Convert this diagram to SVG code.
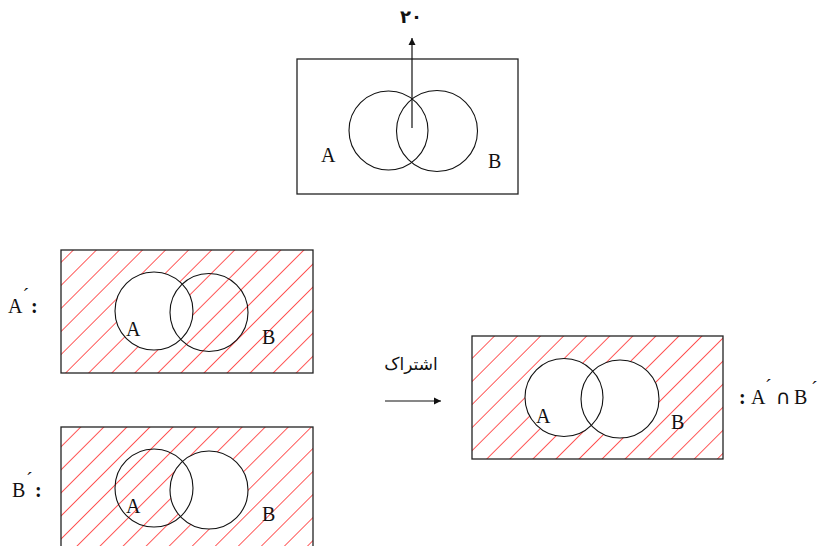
<svg xmlns="http://www.w3.org/2000/svg" width="821" height="546" viewBox="0 0 821 546">
<style>
.box{fill:none;stroke:#222;stroke-width:1.3}
.c{fill:none;stroke:#111;stroke-width:1.1}
.t{font-family:"Liberation Serif","Times New Roman",serif;font-size:20px;fill:#111}
.fa{font-family:"DejaVu Sans","Noto Sans",sans-serif;fill:#111}
.ln{stroke:#111;stroke-width:1.2;fill:none}
.cap{font-family:"DejaVu Sans",sans-serif;font-size:20px}
</style>
<defs>
<pattern id="hatch" patternUnits="userSpaceOnUse" width="16.3" height="16.3" patternTransform="rotate(45)">
<line x1="0" y1="0" x2="0" y2="16.3" stroke="#ff0000" stroke-width="1.3"/>
</pattern>
<marker id="ah" markerWidth="8" markerHeight="8" refX="7" refY="4" orient="auto" markerUnits="userSpaceOnUse">
<path d="M0,0.5 L7,4 L0,7.5 Z" fill="#111"/>
</marker>
<mask id="mA">
<rect x="0" y="0" width="821" height="546" fill="#fff"/>
<circle cx="154" cy="311" r="39" fill="#000"/>
</mask>
<mask id="mB">
<rect x="0" y="0" width="821" height="546" fill="#fff"/>
<circle cx="209" cy="490" r="39" fill="#000"/>
</mask>
<mask id="mAB">
<rect x="0" y="0" width="821" height="546" fill="#fff"/>
<circle cx="564" cy="397.5" r="39" fill="#000"/>
<circle cx="620" cy="399" r="39" fill="#000"/>
</mask>
</defs>

<g id="top-venn">
<rect class="box" x="297" y="59" width="221" height="135"/>
<circle class="c" cx="388.5" cy="130.5" r="39.5"/>
<circle class="c" cx="437" cy="131" r="40.5"/>
<text class="t" x="321" y="162">A</text>
<text class="t" x="488" y="168">B</text>
<text class="fa" x="411" y="23" font-size="18" font-weight="bold" text-anchor="middle">۲۰</text>
</g>

<g id="a-complement">
<rect x="61" y="250" width="252" height="123" fill="url(#hatch)" mask="url(#mA)"/>
<rect class="box" x="61" y="250" width="252" height="123"/>
<circle class="c" cx="154" cy="311" r="39"/>
<circle class="c" cx="209" cy="312.5" r="39"/>
<text class="t" x="126" y="336">A</text>
<text class="t" x="262" y="344">B</text>
<text class="t" x="8" y="313">A<tspan x="22.5" y="303">´</tspan><tspan x="31" y="313" font-weight="bold">:</tspan></text>
</g>

<g id="b-complement">
<rect x="61" y="427" width="252" height="130" fill="url(#hatch)" mask="url(#mB)"/>
<rect class="box" x="61" y="427" width="252" height="130"/>
<circle class="c" cx="154" cy="488" r="39"/>
<circle class="c" cx="209" cy="490" r="39"/>
<text class="t" x="126" y="513">A</text>
<text class="t" x="262" y="521">B</text>
<text class="t" x="12" y="497">B<tspan x="26" y="487">´</tspan><tspan x="35" y="497" font-weight="bold">:</tspan></text>
</g>

<g id="intersection">
<rect x="472" y="336" width="251" height="123" fill="url(#hatch)" mask="url(#mAB)"/>
<rect class="box" x="472" y="336" width="251" height="123"/>
<circle class="c" cx="564" cy="397.5" r="39"/>
<circle class="c" cx="620" cy="399" r="39"/>
<text class="t" x="671" y="429">B</text>
<text class="t" x="536" y="423">A</text>
<text class="t" x="739" y="404"><tspan font-weight="bold">:</tspan><tspan x="751">A</tspan><tspan x="765" y="394">´</tspan><tspan class="cap" x="776" y="404">∩</tspan><tspan x="794">B</tspan><tspan x="811" y="396">´</tspan></text>
</g>

<g id="connectors">
<line class="ln" x1="412" y1="128" x2="412" y2="38" marker-end="url(#ah)"/>
<line class="ln" x1="385" y1="401" x2="441" y2="401" marker-end="url(#ah)"/>
<text class="fa" x="411" y="370" font-size="17" text-anchor="middle">اشتراک</text>
</g>
</svg>
